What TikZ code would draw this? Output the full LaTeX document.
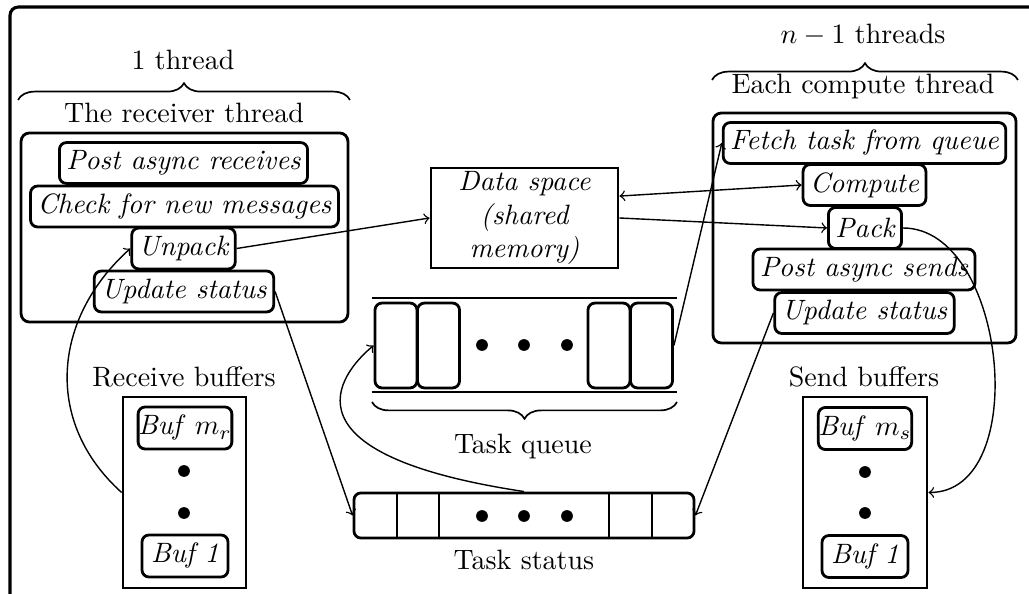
\documentclass[tikz,border=0pt]{standalone}
\usetikzlibrary{decorations.pathreplacing,calc}
\begin{document}
\begin{tikzpicture}[x=0.357pt,y=-0.357pt,
  box/.style={draw,line width=1pt,rounded corners=2.5pt,font=\itshape,inner xsep=2.5pt,inner ysep=1pt,minimum height=14.6pt},
  bufbox/.style={draw,line width=1pt,rounded corners=2.5pt,inner sep=0pt,minimum width=30.7pt,minimum height=15pt},
  frame/.style={draw,line width=1pt,rounded corners=3pt},
  plainbox/.style={draw,line width=1pt},
  cell/.style={draw,line width=1pt,rounded corners=2.5pt,minimum width=15pt,minimum height=30.3pt,inner sep=0pt},
  conn/.style={line width=0.5pt},
  lbl/.style={inner sep=0pt},
  brc/.style={decorate,decoration={brace,amplitude=6pt},line width=0.6pt},
  dotc/.style={circle,fill,inner sep=0pt,minimum size=4.2pt}]
\useasboundingbox (0,0) rectangle (1029,594);
\clip (0,0) rectangle (1029,594);
\draw[line width=1.1pt,rounded corners=3pt] (10,7) rectangle (1045,612);

% receiver thread
\node[lbl] (onethr) at (183,60) {$1$ thread};
\draw[brc] (18,100) -- (350,100);
\node[lbl] (recvlbl) at (184,113) {The receiver thread};
\node[frame,minimum width=116.7pt,minimum height=67.5pt] (recv) at (184.5,227.5) {};
\node[box] (post) at (183.5,163) {Post async receives};
\node[box] (check) at (184.5,206.5) {Check for new messages};
\node[box] (unpack) at (183.5,248.5) {Unpack};
\node[box] (updr) at (184,291.5) {Update status};

% compute thread
\node[lbl] (nthr) at (863,35) {$n-1$ threads};
\draw[brc] (712,80) -- (1018,80);
\node[lbl] (complbl) at (863,87) {Each compute thread};
\node[frame,minimum width=108.2pt,minimum height=82.1pt] (compbox) at (864.5,228) {};
\node[box] (fetch) at (864.5,143) {Fetch task from queue};
\node[box] (compute) at (864.5,185) {Compute};
\node[box] (pack) at (865,228) {Pack};
\node[box] (sends) at (864,269.5) {Post async sends};
\node[box] (upds) at (864.5,313) {Update status};

% data space
\node[plainbox,font=\itshape,align=center,minimum width=66.8pt,minimum height=35.7pt,inner sep=1pt] (data) at (524.5,218) {Data space\\(shared\\memory)};

% task queue
\draw[line width=1pt] (372,298) -- (677,298);
\draw[line width=1pt] (372,392) -- (677,392);
\node[cell] (q1) at (396,345.5) {};
\node[cell] (q2) at (438.5,345.5) {};
\node[cell] (q3) at (609,345.5) {};
\node[cell] (q4) at (651.5,345.5) {};
\node[dotc] (qd1) at (482,345) {};
\node[dotc] (qd2) at (524,345) {};
\node[dotc] (qd3) at (567,345) {};
\draw[brc,decoration={brace,mirror,amplitude=6pt}] (372,402) -- (677,402);
\node[lbl] (qlbl) at (523,447) {Task queue};

% task status
\node[draw,line width=1pt,rounded corners=2.5pt,minimum width=121.4pt,minimum height=16.1pt,inner sep=0pt] (tstat) at (524,515.5) {};
\foreach \xx in {397,439,609,652} \draw[line width=1pt] (\xx,493) -- (\xx,538);
\node[dotc] (sd1) at (482,516) {};
\node[dotc] (sd2) at (524,516) {};
\node[dotc] (sd3) at (567,516) {};
\node[lbl] (slbl) at (524,560) {Task status};

% receive buffers
\node[lbl] (rblbl) at (184,377) {Receive buffers};
\node[plainbox,minimum width=43.9pt,minimum height=68.2pt] (rbuf) at (184.5,492.5) {};
\node[bufbox] (rbm) at (185,428) {\textit{Buf} $m_r$};
\node[dotc] (rd1) at (184,471) {};
\node[dotc] (rd2) at (184,513) {};
\node[bufbox] (rb1) at (185,556) {\textit{Buf 1}};

% send buffers
\node[lbl] (sblbl) at (864,377) {Send buffers};
\node[plainbox,minimum width=44.3pt,minimum height=68.2pt] (sbuf) at (865,492.5) {};
\node[bufbox] (sbm) at (865,428.5) {\textit{Buf} $m_s$};
\node[dotc] (sdd1) at (865,472) {};
\node[dotc] (sdd2) at (865,513) {};
\node[bufbox] (sb1) at (865,556.5) {\textit{Buf 1}};

% connectors
\draw[conn,->] (unpack.east) -- (data.west);
\draw[conn,<->] (data.13) -- (compute.west);
\draw[conn,->] (data.east) -- (pack.west);
\draw[conn,->] (q4.east) -- (fetch.west);
\draw[conn,->] (rbuf.west) to[out=138,in=222,looseness=1.1] (unpack.west);
\draw[conn,->] (updr.east) -- (tstat.west);
\coordinate (c1) at (262,452);
\coordinate (c2) at (350,365);
\draw[conn,->] (tstat.north) .. controls (c1) and (c2) .. (q1.west);
\draw[conn,->] (upds.west) -- (tstat.east);
\draw[conn,->] (pack.east) to[out=0,in=0] (sbuf.east);
\end{tikzpicture}
\end{document}
